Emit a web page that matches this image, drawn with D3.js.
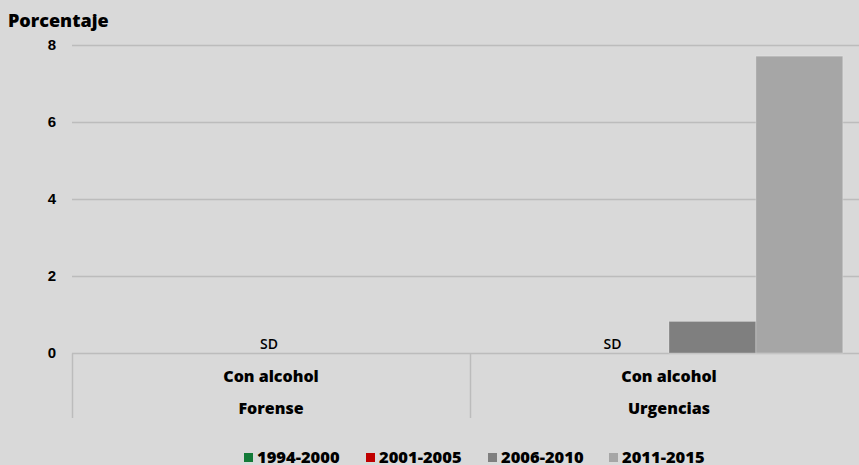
<!DOCTYPE html>
<html>
<head>
<meta charset="utf-8">
<script src="https://cdn.jsdelivr.net/npm/d3@7"></script>
<style>
  html, body { margin: 0; padding: 0; background: #d9d9d9; }
  svg { display: block; font-family: "Open Sans", sans-serif; }
</style>
</head>
<body>
<div class="svg-container"></div>
<script>
const categories = ['Forense', 'Urgencias'];
const subLabel = 'Con alcohol';
const seriesNames = ['1994-2000', '2001-2005', '2006-2010', '2011-2015'];
const seriesColors = ['#137a38', '#c00000', '#7f7f7f', '#a6a6a6'];
// null = sin dato
const values = {
  'Forense':   [null, null, null, null],
  'Urgencias': [null, null, 0.82, 7.71]
};
const yTicks = [0, 2, 4, 6, 8];

const outerWidth = 859;
const outerHeight = 465;
const margin = { left: 72, top: 45, right: -9, bottom: 112 };
const innerHeight = outerHeight - margin.top - margin.bottom;

const svg = d3.select('.svg-container')
  .append('svg')
  .attr('width', outerWidth)
  .attr('height', outerHeight);

const x0 = d3.scaleBand()
  .domain(categories)
  .range([margin.left, outerWidth - margin.right])
  .padding(0);

const x1 = d3.scaleBand()
  .domain(seriesNames)
  .range([0, x0.bandwidth()])
  .paddingInner(0)
  .paddingOuter(0.29);

const yScale = d3.scaleLinear()
  .domain([0, 8])
  .range([margin.top + innerHeight, margin.top]);

// gridlines
svg.append('g')
  .selectAll('line')
  .data(yTicks)
  .enter()
  .append('line')
  .attr('x1', margin.left)
  .attr('x2', outerWidth - margin.right)
  .attr('y1', d => Math.round(yScale(d)) + 0.5)
  .attr('y2', d => Math.round(yScale(d)) + 0.5)
  .attr('stroke', '#bcbcbc')
  .attr('stroke-width', 1.5);

// y labels
const yAxis = d3.axisLeft(yScale).tickValues(yTicks).tickSize(0).tickPadding(0);
const yG = svg.append('g')
  .attr('transform', `translate(${margin.left - 16}, 0)`)
  .call(yAxis);
yG.select('.domain').remove();
yG.selectAll('text')
  .style('font-size', '15px')
  .style('font-weight', '800')
  .attr('fill', '#000');

svg.append('text')
  .text('Porcentaje')
  .attr('x', 8)
  .attr('y', 27)
  .style('font-size', '18px')
  .style('font-weight', '800')
  .attr('fill', '#000');

// bars
const groups = svg.selectAll('.group')
  .data(categories)
  .enter()
  .append('g')
  .attr('class', 'group')
  .attr('transform', d => `translate(${x0(d)}, 0)`);

groups.selectAll('rect')
  .data(c => values[c].map((v, i) => ({ key: seriesNames[i], value: v, i })))
  .enter()
  .filter(d => d.value !== null)
  .append('rect')
  .attr('x', d => x1(d.key))
  .attr('width', x1.bandwidth())
  .attr('y', d => yScale(d.value))
  .attr('height', d => yScale(0) - yScale(d.value))
  .attr('fill', d => seriesColors[d.i])
  .attr('stroke', 'rgba(255,255,255,0.25)')
  .attr('stroke-width', 1);

// SD labels
const sdLabels = [
  { cat: 'Forense', x: x0.bandwidth() / 2 - 2 },
  { cat: 'Urgencias', x: x1(seriesNames[1]) + x1.bandwidth() / 2 - 13 }
];
svg.selectAll('.sd')
  .data(sdLabels)
  .enter()
  .append('text')
  .attr('class', 'sd')
  .attr('x', d => x0(d.cat) + d.x)
  .attr('y', yScale(0) - 4)
  .attr('text-anchor', 'middle')
  .style('font-size', '14px')
  .style('font-weight', '600')
  .attr('fill', '#000')
  .text('SD');

// category axis
const baseY = Math.round(yScale(0)) + 0.5;
const dividers = categories.map(c => x0(c)).concat([x0(categories[1]) + x0.bandwidth()]);
svg.selectAll('.divider')
  .data(dividers)
  .enter()
  .append('line')
  .attr('x1', d => d + 0.5)
  .attr('x2', d => d + 0.5)
  .attr('y1', baseY)
  .attr('y2', 418)
  .attr('stroke', '#bcbcbc')
  .attr('stroke-width', 1.5);

const catText = svg.selectAll('.cat')
  .data(categories)
  .enter()
  .append('g')
  .attr('transform', d => `translate(${x0(d) + x0.bandwidth() / 2}, 0)`);
catText.append('text')
  .attr('y', 382)
  .attr('text-anchor', 'middle')
  .style('font-size', '16px')
  .style('font-weight', '800')
  .text(subLabel);
catText.append('text')
  .attr('y', 414)
  .attr('text-anchor', 'middle')
  .style('font-size', '16px')
  .style('font-weight', '800')
  .text(d => d);

// legend
const legendX = [244, 366, 488, 609];
const legend = svg.selectAll('.legend')
  .data(seriesNames)
  .enter()
  .append('g')
  .attr('class', 'legend')
  .attr('transform', (d, i) => `translate(${legendX[i]}, 453)`);
legend.append('rect')
  .attr('width', 9)
  .attr('height', 9)
  .attr('fill', (d, i) => seriesColors[i]);
legend.append('text')
  .attr('x', 13)
  .attr('y', 10)
  .style('font-size', '16.5px')
  .style('font-weight', '800')
  .text(d => d);
</script>
</body>
</html>
